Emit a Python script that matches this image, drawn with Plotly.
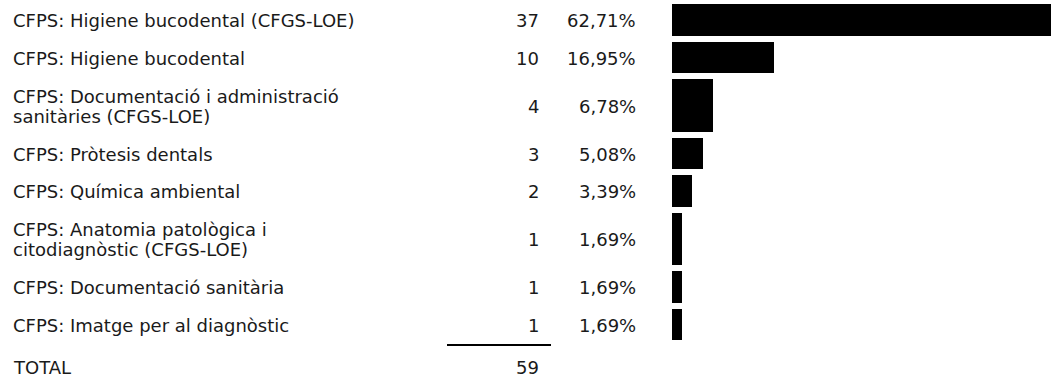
import plotly.graph_objects as go

# Cicles formatius i nombre d'alumnes
labels = [
    "CFPS: Higiene bucodental (CFGS-LOE)",
    "CFPS: Higiene bucodental",
    "CFPS: Documentació i administració<br>sanitàries (CFGS-LOE)",
    "CFPS: Pròtesis dentals",
    "CFPS: Química ambiental",
    "CFPS: Anatomia patològica i<br>citodiagnòstic (CFGS-LOE)",
    "CFPS: Documentació sanitària",
    "CFPS: Imatge per al diagnòstic",
]
counts = [37, 10, 4, 3, 2, 1, 1, 1]
total_label = "TOTAL"

W, H = 1051, 378
FONT = "DejaVu Sans"
FS = 18
LINE = 20
COLOR = "#1a1a1a"

# Row geometry (pixels): one-line rows are shorter than two-line rows
single_h, double_h, gap, top = 31.5, 52.5, 6, 4
centers, heights = [], []
y = top
for lab in labels:
    h = double_h if "<br>" in lab else single_h
    centers.append(y + h / 2)
    heights.append(h)
    y += h + gap
rule_y = y - gap + 4
total_y = rule_y + 22

total = sum(counts)
pcts = [c / total * 100 for c in counts]


def px(x):
    # horizontal pixel -> paper fraction (margins are zero)
    return x / W


def text(x, y, s, anchor):
    return dict(x=px(x), y=y + 1, xref="paper", yref="y", text=s, xanchor=anchor,
                yanchor="middle", align="left", showarrow=False,
                font=dict(family=FONT, size=FS, color=COLOR))


fig = go.Figure()
fig.add_trace(go.Bar(
    x=counts, y=centers, width=heights, orientation="h",
    marker=dict(color="black", line=dict(width=0)),
    hoverinfo="skip", showlegend=False,
))

ann = []
for lab, c, p, cy in zip(labels, counts, pcts, centers):
    lines = lab.split("<br>")
    first = cy - LINE * (len(lines) - 1) / 2
    for i, ln in enumerate(lines):
        ann.append(text(11, first + i * LINE, ln, "left"))
    ann.append(text(541, cy, str(c), "right"))
    ann.append(text(638, cy, f"{p:.2f}".replace(".", ",") + "%", "right"))
ann.append(text(11, total_y, total_label, "left"))
ann.append(text(541, total_y, str(total), "right"))

fig.update_layout(
    width=W, height=H,
    margin=dict(l=0, r=0, t=0, b=0),
    paper_bgcolor="white", plot_bgcolor="white",
    bargap=0,
    xaxis=dict(domain=[672 / W, 1], range=[0, max(counts)], visible=False, fixedrange=True),
    yaxis=dict(range=[H, 0], visible=False, fixedrange=True),
    annotations=ann,
    shapes=[dict(type="line", xref="paper", yref="y", x0=px(447), x1=px(551),
                 y0=rule_y + 1, y1=rule_y + 1, line=dict(color="black", width=2))],
)

fig.write_html("out.html")
